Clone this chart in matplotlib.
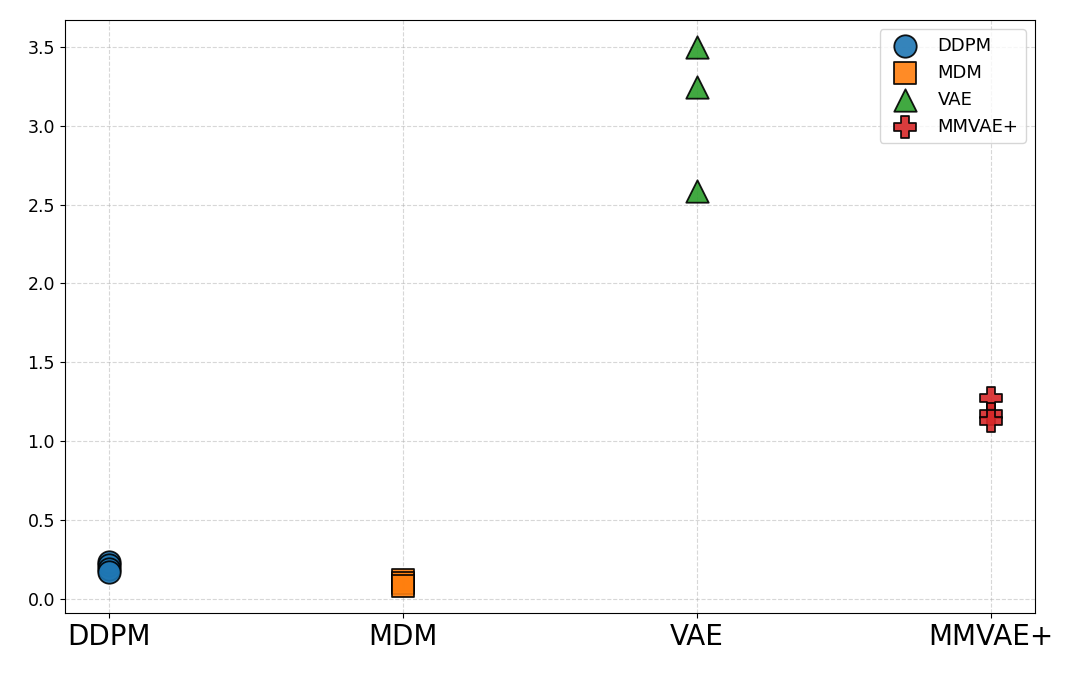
import matplotlib.pyplot as plt

models = ['DDPM', 'MDM', 'VAE', 'MMVAE+']
markers = ['o', 's', '^', 'P']
colors = ['tab:blue', 'tab:orange', 'tab:green', 'tab:red']

# values per model (drawn top to bottom)
ddpm_vals = [0.23, 0.21, 0.19, 0.17]
mdm_vals = [0.12, 0.10, 0.08]
vae_vals = [3.50, 3.25, 2.59]
mmvae_vals = [1.27, 1.17, 1.13]
all_vals = [ddpm_vals, mdm_vals, vae_vals, mmvae_vals]

fig, ax = plt.subplots(figsize=(10.8, 6.75), dpi=100)
for i, (name, vals) in enumerate(zip(models, all_vals)):
    ax.scatter([i] * len(vals), vals, marker=markers[i], color=colors[i],
               edgecolor='black', linewidth=1.3, s=260, alpha=0.9, label=name, zorder=3)

ax.set_xticks(range(len(models)))
ax.set_xticklabels(models, fontsize=20)
ax.tick_params(axis='y', labelsize=12.5)
ax.grid(True, linestyle='--', alpha=0.5)
ax.legend(loc='upper right', fontsize=13)
fig.subplots_adjust(left=0.06, right=0.958, top=0.97, bottom=0.092)
fig.savefig('out.png')
